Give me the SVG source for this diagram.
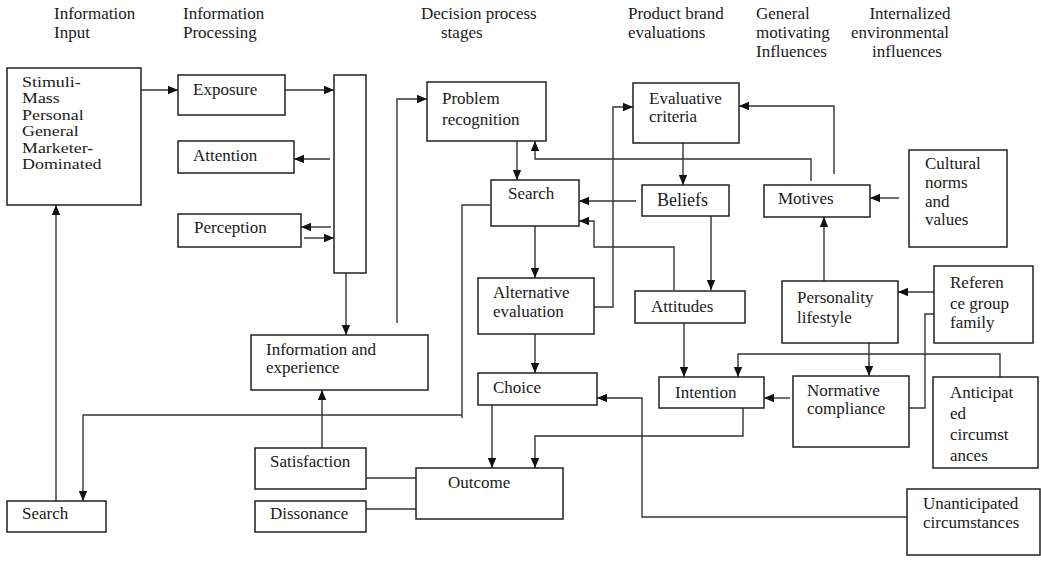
<svg xmlns="http://www.w3.org/2000/svg" width="1041" height="563" viewBox="0 0 1041 563">
<style>
text{font-family:"Liberation Serif","Times New Roman",serif;font-size:17px;fill:#1a1a1a}
.b{fill:#fff;stroke:#222;stroke-width:1.5}
.c{fill:none;stroke:#333;stroke-width:1.4}
.m{text-anchor:middle}
.s{font-size:14px}
</style>
<defs>
<marker id="a" markerUnits="userSpaceOnUse" markerWidth="10" markerHeight="10" viewBox="0 0 10 10" refX="10" refY="5" orient="auto"><path d="M0,0.8 L10,5 L0,9.2 z" fill="#111"/></marker>
</defs>
<rect width="1041" height="563" fill="#fff"/>
<g id="headers">
<text x="54" y="19">Information</text><text x="54" y="38">Input</text>
<text x="183" y="19">Information</text><text x="183" y="38">Processing</text>
<text x="421" y="19">Decision process</text><text x="441" y="38">stages</text>
<text x="628" y="19">Product brand</text><text x="628" y="38">evaluations</text>
<text x="756" y="19">General</text><text x="756" y="38">motivating</text><text x="756" y="57">Influences</text>
<text class="m" x="910" y="19">Internalized</text><text class="m" x="900" y="38">environmental</text><text class="m" x="907" y="57">influences</text>
</g>
<g id="connectors">
<path class="c" d="M141,90 H178" marker-end="url(#a)"/>
<path class="c" d="M285,90 H334" marker-end="url(#a)"/>
<path class="c" d="M330,159 H294" marker-end="url(#a)"/>
<path class="c" d="M331,227 H301" marker-end="url(#a)"/>
<path class="c" d="M304,238 H334" marker-end="url(#a)"/>
<path class="c" d="M346,273 V335" marker-end="url(#a)"/>
<path class="c" d="M397,323 V99 H427" marker-end="url(#a)"/>
<path class="c" d="M56,501 V205" marker-end="url(#a)"/>
<path class="c" d="M490,205 H462 V418 M462,415 H83 V501" marker-end="url(#a)"/>
<path class="c" d="M322,448 V390" marker-end="url(#a)"/>
<path class="c" d="M366,478 H416"/>
<path class="c" d="M366,509 H416"/>
<path class="c" d="M517,141 V180" marker-end="url(#a)"/>
<path class="c" d="M811,181 V159 H535 V141" marker-end="url(#a)"/>
<path class="c" d="M636,201 H579" marker-end="url(#a)"/>
<path class="c" d="M683,143 V185" marker-end="url(#a)"/>
<path class="c" d="M834,174 V106 H739" marker-end="url(#a)"/>
<path class="c" d="M899,198 H870" marker-end="url(#a)"/>
<path class="c" d="M674,290 V247 H594 V221 H579" marker-end="url(#a)"/>
<path class="c" d="M535,226 V278" marker-end="url(#a)"/>
<path class="c" d="M594,307 H613 V107 H633" marker-end="url(#a)"/>
<path class="c" d="M711,216 V290" marker-end="url(#a)"/>
<path class="c" d="M684,323 V377" marker-end="url(#a)"/>
<path class="c" d="M535,334 V373" marker-end="url(#a)"/>
<path class="c" d="M492,405 V468" marker-end="url(#a)"/>
<path class="c" d="M743,408 V436 H535 V468" marker-end="url(#a)"/>
<path class="c" d="M907,517 H642 V398 H597" marker-end="url(#a)"/>
<path class="c" d="M790,398 H764" marker-end="url(#a)"/>
<path class="c" d="M824,281 V217" marker-end="url(#a)"/>
<path class="c" d="M869,343 V376" marker-end="url(#a)"/>
<path class="c" d="M934,292 H898" marker-end="url(#a)"/>
<path class="c" d="M909,408 H925 V314 H934"/>
<path class="c" d="M1000,377 V354 H738 V377" marker-end="url(#a)"/>
</g>
<g id="stimuli"><rect class="b" x="7" y="68" width="134" height="137"/>
<g transform="translate(22,0) scale(1.28,1)"><text class="s" x="0" y="87">Stimuli-</text><text class="s" x="0" y="103.4">Mass</text><text class="s" x="0" y="119.8">Personal</text><text class="s" x="0" y="136.2">General</text><text class="s" x="0" y="152.6">Marketer-</text><text class="s" x="0" y="169">Dominated</text></g></g>
<g id="exposure"><rect class="b" x="178" y="75" width="107" height="40"/><text x="193" y="94.5">Exposure</text></g>
<g id="attention"><rect class="b" x="178" y="141" width="116" height="32"/><text x="193" y="161">Attention</text></g>
<g id="perception"><rect class="b" x="178" y="214" width="123" height="33"/><text x="194" y="233">Perception</text></g>
<g id="processing-bar"><rect class="b" x="334" y="75" width="32" height="198"/></g>
<g id="info-experience"><rect class="b" x="251" y="335" width="177" height="55"/><text x="266" y="355">Information and</text><text x="266" y="373">experience</text></g>
<g id="search-input"><rect class="b" x="7" y="501" width="99" height="31"/><text x="22" y="519">Search</text></g>
<g id="satisfaction"><rect class="b" x="255" y="448" width="111" height="41"/><text x="270" y="467">Satisfaction</text></g>
<g id="dissonance"><rect class="b" x="255" y="501" width="111" height="31"/><text x="270" y="519">Dissonance</text></g>
<g id="problem"><rect class="b" x="427" y="82" width="119" height="59"/><text x="442" y="104">Problem</text><text x="442" y="125">recognition</text></g>
<g id="search"><rect class="b" x="491" y="180" width="88" height="46"/><text x="508" y="199">Search</text></g>
<g id="alternative"><rect class="b" x="478" y="278" width="116" height="56"/><text x="493" y="298">Alternative</text><text x="493" y="317">evaluation</text></g>
<g id="choice"><rect class="b" x="478" y="373" width="119" height="32"/><text x="493" y="393">Choice</text></g>
<g id="outcome"><rect class="b" x="416" y="468" width="147" height="51"/><text x="448" y="488">Outcome</text></g>
<g id="evaluative"><rect class="b" x="633" y="83" width="106" height="60"/><text x="649" y="104">Evaluative</text><text x="649" y="122">criteria</text></g>
<g id="beliefs"><rect class="b" x="642" y="185" width="87" height="31"/><text x="657" y="206" style="font-size:18px">Beliefs</text></g>
<g id="attitudes"><rect class="b" x="635" y="291" width="110" height="32"/><text x="651" y="312">Attitudes</text></g>
<g id="intention"><rect class="b" x="659" y="377" width="105" height="31"/><text x="675" y="398">Intention</text></g>
<g id="motives"><rect class="b" x="764" y="185" width="106" height="32"/><text x="778" y="204">Motives</text></g>
<g id="cultural"><rect class="b" x="909" y="150" width="98" height="97"/><text x="925" y="169">Cultural</text><text x="925" y="188">norms</text><text x="925" y="207">and</text><text x="925" y="225">values</text></g>
<g id="personality"><rect class="b" x="782" y="281" width="116" height="62"/><text x="797" y="303">Personality</text><text x="797" y="323">lifestyle</text></g>
<g id="reference"><rect class="b" x="934" y="266" width="99" height="77"/><text x="950" y="288">Referen</text><text x="950" y="309">ce group</text><text x="950" y="328">family</text></g>
<g id="normative"><rect class="b" x="793" y="376" width="116" height="71"/><text x="807" y="396">Normative</text><text x="807" y="414">compliance</text></g>
<g id="anticipated"><rect class="b" x="933" y="377" width="105" height="91"/><text x="950" y="398">Anticipat</text><text x="950" y="419">ed</text><text x="950" y="440">circumst</text><text x="950" y="461">ances</text></g>
<g id="unanticipated"><rect class="b" x="907" y="489" width="133" height="66"/><text x="923" y="509">Unanticipated</text><text x="923" y="528">circumstances</text></g>
</svg>
